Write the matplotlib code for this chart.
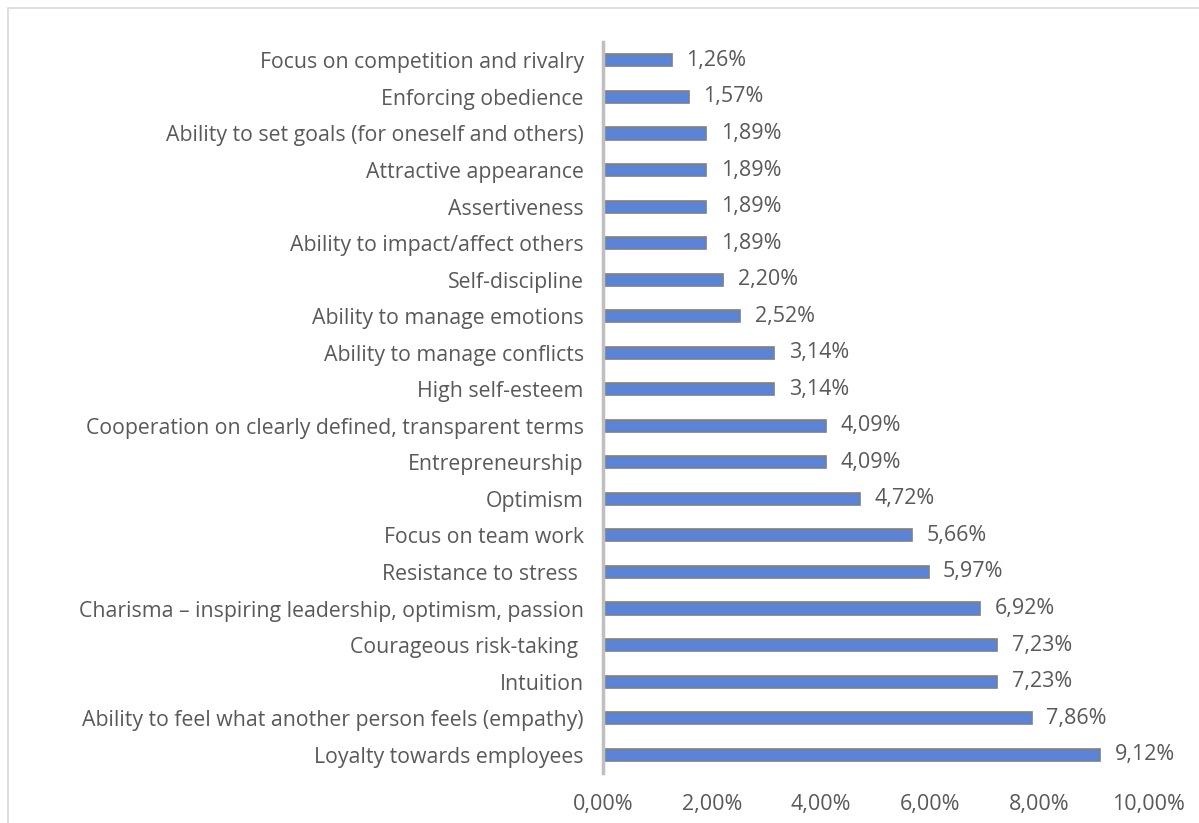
import matplotlib.pyplot as plt
from matplotlib.patches import Rectangle
from matplotlib.ticker import FuncFormatter

traits = [
    "Focus on competition and rivalry",
    "Enforcing obedience",
    "Ability to set goals (for oneself and others)",
    "Attractive appearance",
    "Assertiveness",
    "Ability to impact/affect others",
    "Self-discipline",
    "Ability to manage emotions",
    "Ability to manage conflicts",
    "High self-esteem",
    "Cooperation on clearly defined, transparent terms",
    "Entrepreneurship",
    "Optimism",
    "Focus on team work",
    "Resistance to stress ",
    "Charisma \u2013 inspiring leadership, optimism, passion",
    "Courageous risk-taking ",
    "Intuition",
    "Ability to feel what another person feels (empathy)",
    "Loyalty towards employees",
]
shares = [1.26, 1.57, 1.89, 1.89, 1.89, 1.89, 2.20, 2.52, 3.14, 3.14,
          4.09, 4.09, 4.72, 5.66, 5.97, 6.92, 7.23, 7.23, 7.86, 9.12]
x_ticks = [0, 2, 4, 6, 8, 10]

text_col = "#595959"
bar_col = "#5B84D6"

plt.rcParams["font.family"] = ["Open Sans", "DejaVu Sans"]


def pct(v):
    return f"{v:.2f}%".replace(".", ",")


fig = plt.figure(figsize=(11.99, 8.23), dpi=100)
ax = fig.add_axes([0.503, 0.0608, 0.4546, 0.888])

ypos = list(range(len(traits)))
ax.barh(ypos, shares, height=0.33, color=bar_col, edgecolor="#7F7F7F",
        linewidth=1.2)
ax.set_ylim(len(traits) - 0.5, -0.5)
ax.set_xlim(0, 10)

for y, v in zip(ypos, shares):
    ax.annotate(pct(v), (v, y), xytext=(10.5, 0),
                textcoords="offset points", va="center", ha="left",
                fontsize=15.5, color=text_col)

ax.set_yticks(ypos)
ax.set_yticklabels(traits, fontsize=15.3, color=text_col)
ax.set_xticks(x_ticks)
ax.xaxis.set_major_formatter(FuncFormatter(lambda v, p: pct(v)))
ax.tick_params(axis="x", length=0, pad=15, labelsize=15.5, labelcolor=text_col)
ax.tick_params(axis="y", length=0, pad=14)

for side in ["top", "right", "bottom"]:
    ax.spines[side].set_visible(False)
ax.spines["left"].set_color("#BFBFBF")
ax.spines["left"].set_linewidth(2.5)

# chart area frame
fig.patches.append(Rectangle((8, -10), 1300, 823 - 8 + 10, transform=None,
                             fill=False, edgecolor="#D9D9D9", linewidth=1.2))

fig.savefig("out.png", dpi=100)
